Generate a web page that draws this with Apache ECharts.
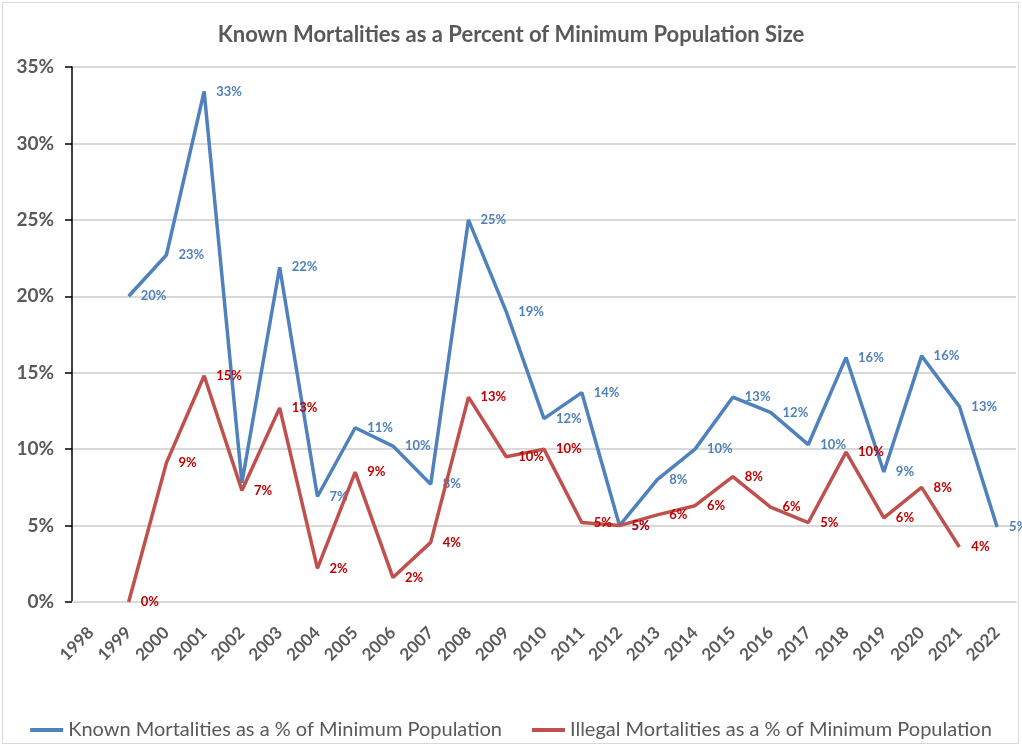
<!DOCTYPE html>
<html>
<head>
<meta charset="utf-8">
<title>Known Mortalities</title>
<script src="https://cdn.jsdelivr.net/npm/echarts@6/dist/echarts.min.js"></script>
<style>
  html, body { margin: 0; padding: 0; background: #fff; }
  #chart { width: 1022px; height: 747px; }
</style>
</head>
<body>
<div id="chart"></div>
<script>
// years on the x axis
const years = ['1998', '1999', '2000', '2001', '2002', '2003', '2004', '2005', '2006', '2007', '2008',
  '2009', '2010', '2011', '2012', '2013', '2014', '2015', '2016', '2017', '2018', '2019', '2020', '2021', '2022']

// percent values
const knownPct = [null, 20.0, 22.7, 33.4, 7.8, 21.9, 6.9, 11.4, 10.2, 7.7, 25.0,
  19.0, 12.0, 13.7, 5.0, 8.0, 10.0, 13.4, 12.4, 10.3, 16.0, 8.5, 16.1, 12.8, 4.9]
const illegalPct = [null, 0.0, 9.1, 14.8, 7.3, 12.7, 2.2, 8.5, 1.6, 3.9, 13.4,
  9.5, 10.0, 5.2, 5.0, 5.7, 6.3, 8.2, 6.2, 5.2, 9.8, 5.5, 7.5, 3.6, null]

// label of the known series that is not drawn in the picture
const knownNoLabel = ['2002']

const yTicks = [0, 5, 10, 15, 20, 25, 30, 35]

const FONT = 'Lato'
const GREY = '#595959'
const BLUE = '#4F81BD'
const RED = '#C0504D'

const chart = echarts.init(document.getElementById('chart'))

function pctLabel(p) {
  return Math.round(p.value) + '%'
}

chart.setOption({
  backgroundColor: '#fff',
  textStyle: { fontFamily: FONT },
  title: {
    text: 'Known Mortalities as a Percent of Minimum Population Size',
    left: 'center',
    top: 19,
    textStyle: { fontFamily: FONT, fontSize: 22, fontWeight: 'bold', color: GREY }
  },
  graphic: [{
    type: 'rect',
    shape: { x: 2.5, y: 2.5, width: 1016, height: 741 },
    style: { fill: 'none', stroke: '#d9d9d9', lineWidth: 1 },
    silent: true
  }],
  grid: { left: 72, right: 6, top: 67, bottom: 145 },
  legend: {
    bottom: 2,
    left: 'center',
    itemGap: 30,
    itemWidth: 33,
    itemHeight: 4,
    icon: 'rect',
    textStyle: { fontFamily: FONT, fontSize: 20, color: GREY },
    data: ['Known Mortalities as a % of Minimum Population', 'Illegal Mortalities as a % of Minimum Population']
  },
  xAxis: {
    type: 'category',
    data: years,
    boundaryGap: true,
    axisLine: { lineStyle: { color: '#d9d9d9', width: 2 } },
    axisTick: { show: false },
    axisLabel: {
      rotate: 45,
      margin: 28,
      interval: 0,
      fontFamily: FONT,
      fontSize: 17,
      fontWeight: 'bold',
      color: GREY
    }
  },
  yAxis: {
    type: 'value',
    min: yTicks[0],
    max: yTicks[yTicks.length - 1],
    interval: 5,
    axisLine: { show: true, lineStyle: { color: '#000', width: 1.5 } },
    axisTick: { show: true, length: 7, lineStyle: { color: '#000', width: 1.5 } },
    splitLine: { lineStyle: { color: '#d9d9d9', width: 2 } },
    axisLabel: {
      margin: 18,
      fontFamily: FONT,
      fontSize: 19,
      fontWeight: 'bold',
      color: GREY,
      formatter: v => v + '%'
    }
  },
  series: [{
    name: 'Known Mortalities as a % of Minimum Population',
    type: 'line',
    data: knownPct.map((v, i) => knownNoLabel.includes(years[i]) ? { value: v, label: { show: false } } : v),
    symbol: 'circle',
    symbolSize: 0,
    color: BLUE,
    lineStyle: { color: BLUE, width: 3.5 },
    label: {
      show: true,
      position: 'right',
      distance: 12,
      fontFamily: FONT,
      fontSize: 13,
      fontWeight: 'bold',
      color: BLUE,
      formatter: pctLabel
    },
    z: 2,
    animation: false
  }, {
    name: 'Illegal Mortalities as a % of Minimum Population',
    type: 'line',
    data: illegalPct,
    symbol: 'circle',
    symbolSize: 0,
    color: RED,
    lineStyle: { color: RED, width: 3.5 },
    label: {
      show: true,
      position: 'right',
      distance: 12,
      fontFamily: FONT,
      fontSize: 13,
      fontWeight: 'bold',
      color: '#C00000',
      formatter: pctLabel
    },
    z: 3,
    animation: false
  }]
})
</script>
</body>
</html>
